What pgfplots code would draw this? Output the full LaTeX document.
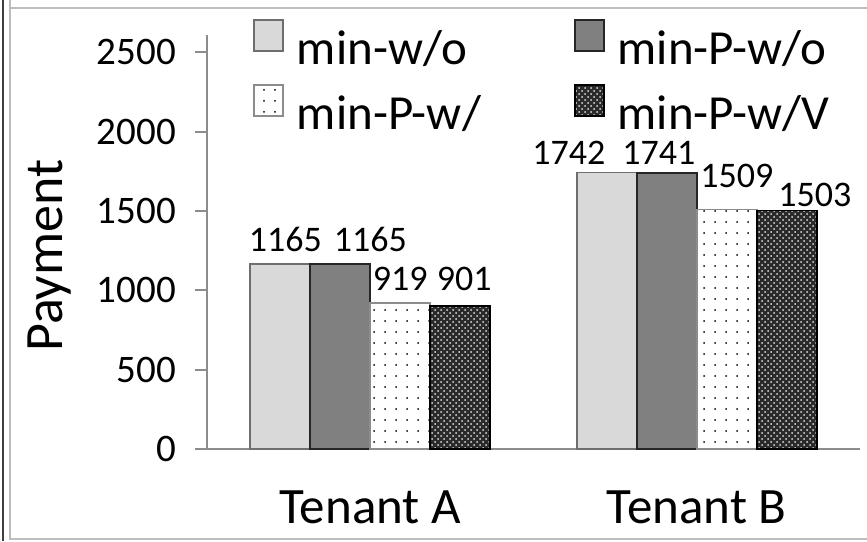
\documentclass[border=0pt]{standalone}
\usepackage{fontspec}
\setmainfont{Carlito}
\usepackage{pgfplots}
\usepackage{pgfplotstable}
\pgfplotsset{compat=1.18}
\usetikzlibrary{patterns,patterns.meta}

\definecolor{lightbar}{HTML}{D9D9D9}
\definecolor{lightedge}{HTML}{6E6E6E}
\definecolor{midbar}{HTML}{808080}
\definecolor{darkbar}{HTML}{2A2A2A}
\definecolor{axisgray}{HTML}{8C8C8C}
\definecolor{framegray}{HTML}{BDBDBD}

% x: 0 = Tenant A, 1 = Tenant B; dx/dy: label offsets (pt)
\pgfplotstableread{
x y    dx   dy
0 1165 2.5  6.5
1 1742 -19  4
}\minwo
\pgfplotstableread{
x y    dx   dy
0 1165 15   6.5
1 1741 -4   4
}\minPwo
\pgfplotstableread{
x y    dx   dy
0 919  0    6.5
1 1509 5    11
}\minPw
\pgfplotstableread{
x y    dx   dy
0 901  2    8
1 1503 14   2
}\minPwV

\begin{document}
\begin{tikzpicture}
\useasboundingbox (-103.5pt,-46pt) rectangle (330pt,224.5pt);
% chart area frame
\draw[line width=1pt, black!75] (-102pt,-46pt) -- (-102pt,224.5pt);
\draw[line width=1pt, framegray] (-98.5pt,230pt) -- (-98.5pt,-45pt) -- (340pt,-45pt);
\draw[line width=1.2pt, framegray] (-98.5pt,220.5pt) -- (340pt,220.5pt);

\begin{axis}[
  width=326.5pt, height=207pt, scale only axis,
  ybar, bar width=30pt, ybar=0pt,
  xmin=-0.5, xmax=1.5, ymin=0, ymax=2610,
  axis x line*=bottom, axis y line*=left,
  axis line style={axisgray, line width=1pt},
  xtick={0,1}, xticklabels={Tenant A, Tenant B},
  major x tick style={draw=none},
  extra x ticks={-0.5,0.5,1.5}, extra x tick labels={},
  extra x tick style={tick style={axisgray, line width=1pt}, major tick length=9pt, tick align=outside},
  ytick={0,500,...,2500},
  tick align=outside, major tick length=6pt,
  y tick style={axisgray, line width=1pt},
  /pgf/number format/1000 sep={},
  /pgf/number format/assume math mode=true,
  yticklabel style={font=\fontsize{19.5}{23}\selectfont, xshift=-6pt},
  xticklabel style={font=\fontsize{25.5}{30}\selectfont, yshift=-11.5pt},
  every axis y label/.style={at={(axis description cs:-0.2404,0.467)}, rotate=90, anchor=center},
  ylabel={\fontsize{27}{32}\selectfont Payment},
  visualization depends on={\thisrow{dx} \as \dx},
  visualization depends on={\thisrow{dy} \as \dy},
  nodes near coords,
  nodes near coords style={font=\fontsize{18}{21}\selectfont,
    /pgf/number format/assume math mode=true, black,
    anchor=base, inner sep=0pt, xshift=\dx pt, yshift=\dy pt},
  legend columns=2,
  legend cell align=left,
  legend style={at={(rel axis cs:0.0704,1.0386)}, anchor=north west, draw=none, fill=none,
    font=\fontsize{24.5}{30}\selectfont, inner sep=0pt, row sep=5pt,
    nodes={inner sep=0pt, text height=18pt, text depth=5pt},
    /tikz/every odd column/.append style={column sep=6.5pt},
    /tikz/every even column/.append style={column sep=46.6pt}},
  legend image code/.code={\draw[#1, line width=0.8pt] (0pt,0pt) rectangle (14.5pt,15.5pt);},
]
\addplot[fill=lightbar, draw=lightedge, line width=0.8pt] table[x=x,y=y] {\minwo};
\addplot[fill=midbar, draw=black!85, line width=0.8pt] table[x=x,y=y] {\minPwo};
\addplot[fill=white, draw=black!45, line width=0.8pt,
  postaction={pattern={Dots[distance=5.5pt, radius=0.5pt]}, pattern color=black}] table[x=x,y=y] {\minPw};
\addplot[fill=darkbar, draw=black, line width=0.8pt,
  postaction={pattern=crosshatch dots, pattern color=white!75!gray}] table[x=x,y=y] {\minPwV};
\legend{min-w/o, min-P-w/o, min-P-w/, min-P-w/V}
\end{axis}
\end{tikzpicture}
\end{document}
